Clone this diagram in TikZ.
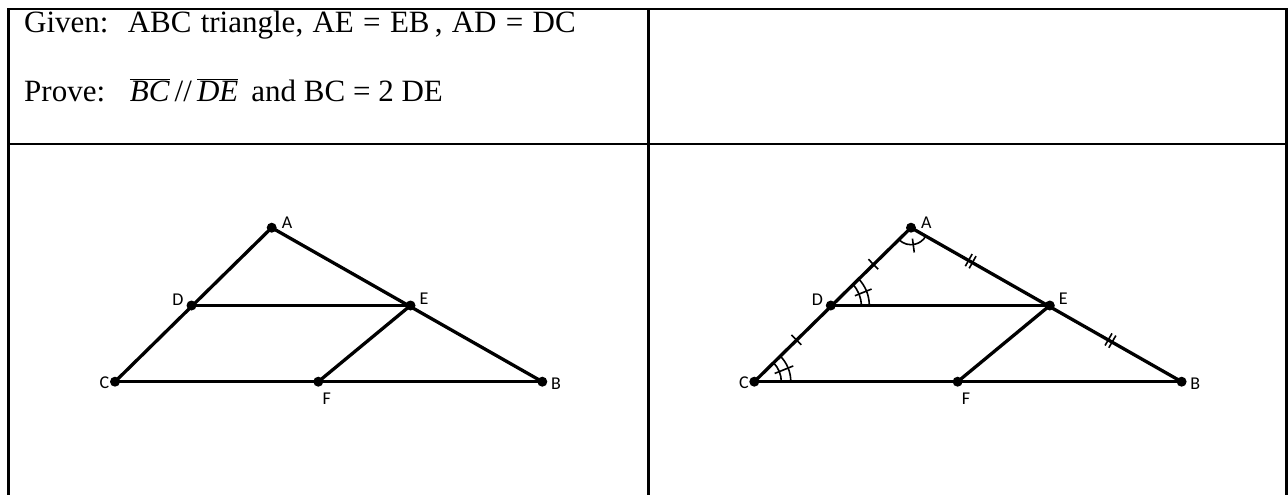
\documentclass[tikz,border=0pt]{standalone}
\usepackage{fontspec}
\setmainfont{Liberation Serif}
\newfontfamily\lblfont{Carlito}
\usetikzlibrary{calc}
\begin{document}
\begin{tikzpicture}[x=1pt,y=1pt,
  frame/.style={line width=2.5pt},
  seg/.style={line width=3.3pt},
  dot/.style={circle,fill=black,inner sep=0pt,minimum size=10pt},
  lbl/.style={font=\lblfont\fontsize{18}{18}\selectfont,inner sep=0pt},
  txt/.style={anchor=base west,inner sep=0pt,font=\fontsize{31}{36}\selectfont},
  thin/.style={line width=1.6pt}]
\useasboundingbox (0,0) rectangle (1288,-495);
% table
\draw[frame] (8.5,-495) -- (8.5,-9) -- (1286.7,-9) -- (1286.7,-495);
\draw[frame] (648.3,-9) -- (648.3,-495);
\draw[frame] (8.5,-144) -- (1286.7,-144);
% text
\node[txt] (given) at (24,-32.5) {\spaceskip=0.3em plus 0.1em Given:\hspace{0.62em}ABC triangle, AE = EB\,, AD = DC};
\node[txt] (prove) at (24,-101) {Prove:\hspace{0.8em}$\overline{\hbox{\itshape BC}}$\,//\,$\overline{\hbox{\itshape DE}}$\hspace{0.42em}and BC = 2 DE};
% left figure
\node[dot] (A) at (271.7,-227.7) {};
\node[dot] (D) at (191.5,-305.5) {};
\node[dot] (E) at (410.5,-305.5) {};
\node[dot] (C) at (115,-381.7) {};
\node[dot] (F) at (318.3,-381.7) {};
\node[dot] (B) at (542.3,-381.7) {};
\draw[seg] (A.center) -- (C.center);
\draw[seg] (A.center) -- (B.center);
\draw[seg] (D.center) -- (E.center);
\draw[seg] (C.center) -- (B.center);
\draw[seg] (E.center) -- (F.center);
\node[lbl] (lA) at (287,-223) {A};
\node[lbl] (lD) at (178,-300) {D};
\node[lbl] (lE) at (424,-299) {E};
\node[lbl] (lC) at (104.5,-383) {C};
\node[lbl] (lF) at (326.7,-398.5) {F};
\node[lbl] (lB) at (556,-383.5) {B};
% right figure
\node[dot] (A2) at (911,-227.7) {};
\node[dot] (D2) at (830.8,-305.5) {};
\node[dot] (E2) at (1049.8,-305.5) {};
\node[dot] (C2) at (754.3,-381.7) {};
\node[dot] (F2) at (957.6,-381.7) {};
\node[dot] (B2) at (1181.6,-381.7) {};
\draw[seg] (A2.center) -- (C2.center);
\draw[seg] (A2.center) -- (B2.center);
\draw[seg] (D2.center) -- (E2.center);
\draw[seg] (C2.center) -- (B2.center);
\draw[seg] (E2.center) -- (F2.center);
\node[lbl] (lA2) at (926.3,-223) {A};
\node[lbl] (lD2) at (817.3,-300) {D};
\node[lbl] (lE2) at (1063.3,-299) {E};
\node[lbl] (lC2) at (743.8,-383) {C};
\node[lbl] (lF2) at (966,-398.5) {F};
\node[lbl] (lB2) at (1195.3,-383.5) {B};
% single ticks on AD and DC
\coordinate (m1) at ($(A2.center)!0.47!(D2.center)$);
\coordinate (m2) at ($(D2.center)!0.45!(C2.center)$);
\draw[thin] ($(m1)!7pt!90:(D2.center)$) -- ($(m1)!7pt!-90:(D2.center)$);
\draw[thin] ($(m2)!7pt!90:(C2.center)$) -- ($(m2)!7pt!-90:(C2.center)$);
% double ticks on AE and EB
\coordinate (m3) at ($(A2.center)!0.43!(E2.center)$);
\coordinate (m4) at ($(E2.center)!0.46!(B2.center)$);
\foreach \s in {-2.2,2.2}{
  \coordinate (p3) at ($(m3)!\s pt!(E2.center)$);
  \draw[thin] ($(p3)!7pt!90:(E2.center)$) -- ($(p3)!7pt!-90:(E2.center)$);
  \coordinate (p4) at ($(m4)!\s pt!(B2.center)$);
  \draw[thin] ($(p4)!7pt!90:(B2.center)$) -- ($(p4)!7pt!-90:(B2.center)$);
}
% angle at A
\draw[thin] ([shift={(224.5:17)}]A2.center) arc (224.5:330.4:17);
\draw[thin] ([shift={(277.5:11)}]A2.center) -- ([shift={(277.5:25)}]A2.center);
% angle at D
\draw[thin] ([shift={(0:30.5)}]D2.center) arc (0:44.1:30.5);
\draw[thin] ([shift={(0:38.5)}]D2.center) arc (0:44.1:38.5);
\draw[thin] ([shift={(22:26)}]D2.center) -- ([shift={(22:44)}]D2.center);
% angle at C
\draw[thin] ([shift={(0:27)}]C2.center) arc (0:44.5:27);
\draw[thin] ([shift={(0:36.5)}]C2.center) arc (0:44.5:36.5);
\draw[thin] ([shift={(22:22)}]C2.center) -- ([shift={(22:42)}]C2.center);
\end{tikzpicture}
\end{document}
